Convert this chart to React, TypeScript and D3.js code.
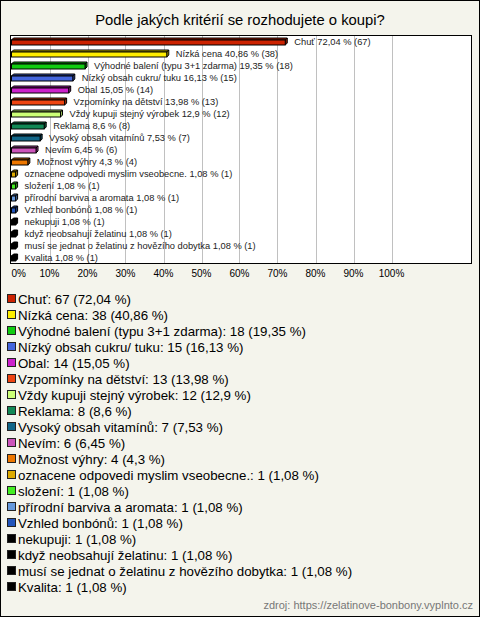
import React from "react";
import * as d3 from "d3";

const categories = [
  "Chuť",
  "Nízká cena",
  "Výhodné balení (typu 3+1 zdarma)",
  "Nízký obsah cukru/ tuku",
  "Obal",
  "Vzpomínky na dětství",
  "Vždy kupuji stejný výrobek",
  "Reklama",
  "Vysoký obsah vitamínů",
  "Nevím",
  "Možnost výhry",
  "oznacene odpovedi myslim vseobecne.",
  "složení",
  "přírodní barviva a aromata",
  "Vzhled bonbónů",
  "nekupuji",
  "když neobsahují želatinu",
  "musí se jednat o želatinu z hovězího dobytka",
  "Kvalita",
];
const counts = [67, 38, 18, 15, 14, 13, 12, 8, 7, 6, 4, 1, 1, 1, 1, 1, 1, 1, 1];
const percents = ["72,04", "40,86", "19,35", "16,13", "15,05", "13,98", "12,9", "8,6", "7,53", "6,45", "4,3", "1,08", "1,08", "1,08", "1,08", "1,08", "1,08", "1,08", "1,08"];
const colors = [
  "#cc2200", "#ffee00", "#11cc11", "#4466dd", "#cc22cc", "#ee4411", "#ccff77",
  "#118855", "#116688", "#cc55bb", "#ee7700", "#ddaa00", "#44ee22", "#6699dd",
  "#2255bb", "#000000", "#000000", "#000000", "#000000",
];
const xTicks = [0, 10, 20, 30, 40, 50, 60, 70, 80, 90, 100];
const title = "Podle jakých kritérií se rozhodujete o koupi?";
const source = "zdroj: https://zelatinove-bonbony.vyplnto.cz";

const W = 480;
const H = 617;
const FONT = "'Liberation Sans', Arial, sans-serif";

export default function App() {
  const pct = percents.map((p) => parseFloat(p.replace(",", ".")));
  const plot = { left: 10.5, top: 35.5, right: 471.5, bottom: 263.5 };
  const x = d3.scaleLinear().domain([0, 100]).range([11.5, 391.5]);
  const y = d3
    .scaleBand<number>()
    .domain(categories.map((_, i) => i))
    .range([plot.top, plot.bottom])
    .paddingInner(0)
    .paddingOuter(0);
  const depth = 2;
  const faceH = 5;
  const legendY = d3.scaleLinear().domain([0, categories.length - 1]).range([299, 587]);

  return (
    <svg
      width={W}
      height={H}
      style={{ position: "absolute", left: 0, top: 0, display: "block" }}
      fontFamily={FONT}
    >
      <rect x={0.5} y={0.5} width={W - 1} height={H - 1} fill="#f4f4ec" stroke="#000" />
      <text x={W / 2} y={25} textAnchor="middle" fontSize={14.8} fill="#000">
        {title}
      </text>
      <rect
        x={plot.left}
        y={plot.top}
        width={plot.right - plot.left}
        height={plot.bottom - plot.top}
        fill="#fff"
        stroke="none"
      />
      {xTicks.slice(1).map((t) => (
        <line
          key={t}
          x1={Math.round(x(t)) + 0.5}
          x2={Math.round(x(t)) + 0.5}
          y1={plot.top}
          y2={plot.bottom}
          stroke="#c0c0c0"
        />
      ))}
      {categories.map((c, i) => {
        const cy = (y(i) as number) + y.bandwidth() / 2 + 0.5;
        const x0 = x(0);
        const x1 = x(pct[i]);
        const top = cy - faceH / 2 + 0.5;
        const bot = top + faceH;
        const dark = d3.color(colors[i])!.darker(0.8).toString();
        return (
          <g key={c}>
            <polygon
              points={`${x0},${top} ${x0 + depth},${top - depth} ${x1 + depth},${top - depth} ${x1},${top}`}
              fill={dark}
              stroke="#000"
              strokeWidth={1}
            />
            <polygon
              points={`${x1},${top} ${x1 + depth},${top - depth} ${x1 + depth},${bot - depth} ${x1},${bot}`}
              fill={dark}
              stroke="#000"
              strokeWidth={1}
            />
            <rect x={x0} y={top} width={x1 - x0} height={faceH} fill={colors[i]} stroke="#000" strokeWidth={1} />
            <text x={x1 + 9} y={cy} dy="0.35em" fontSize={9.3} fill="#222">
              {`${c} ${percents[i]} % (${counts[i]})`}
            </text>
          </g>
        );
      })}
      <rect
        x={plot.left}
        y={plot.top}
        width={plot.right - plot.left}
        height={plot.bottom - plot.top}
        fill="none"
        stroke="#000"
      />
      {xTicks.map((t, i) => (
        <text
          key={t}
          x={x(t)}
          y={277}
          textAnchor={i === 0 ? "start" : "middle"}
          fontSize={10}
          fill="#000"
        >
          {`${t}%`}
        </text>
      ))}
      {categories.map((c, i) => {
        const ly = legendY(i);
        return (
          <g key={"l" + c}>
            <rect x={7.5} y={ly - 4.5} width={8} height={8} fill={colors[i]} stroke="#222" />
            <text x={18} y={ly} dy="0.35em" fontSize={13.3} fill="#000">
              {`${c}: ${counts[i]} (${percents[i]} %)`}
            </text>
          </g>
        );
      })}
      <text x={473} y={609} textAnchor="end" fontSize={11} fill="#777">
        {source}
      </text>
    </svg>
  );
}
